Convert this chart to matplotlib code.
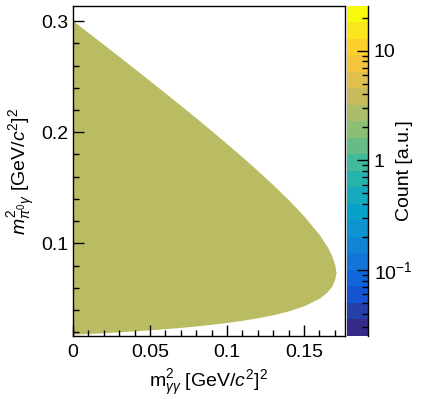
import numpy as np
import matplotlib
matplotlib.use("Agg")
import matplotlib.pyplot as plt
from matplotlib.colors import LinearSegmentedColormap, LogNorm
from matplotlib.cm import ScalarMappable

plt.rcParams['font.family'] = ['Liberation Sans', 'DejaVu Sans']
plt.rcParams['mathtext.fontset'] = 'custom'
plt.rcParams['mathtext.rm'] = 'Liberation Sans'
plt.rcParams['mathtext.it'] = 'Liberation Sans:italic'
plt.rcParams['mathtext.bf'] = 'Liberation Sans:bold'

# boundary of the filled region
m2_gg = [0.0, 0.01, 0.02, 0.03, 0.04, 0.05, 0.06, 0.07, 0.08, 0.09, 0.10,
         0.11, 0.12, 0.13, 0.14, 0.15, 0.16, 0.165, 0.168, 0.170, 0.1705, 0.1709]
m2_pig_low = [0.0182, 0.0189, 0.0196, 0.0204, 0.0213, 0.0222, 0.0233, 0.0244,
              0.0257, 0.0272, 0.0289, 0.0308, 0.0331, 0.0358, 0.0393, 0.0439,
              0.0508, 0.0563, 0.0615, 0.0679, 0.0721, 0.0740]
m2_pig_high = [0.3003, 0.2896, 0.2789, 0.2681, 0.2572, 0.2463, 0.2352, 0.2241,
               0.2128, 0.2013, 0.1896, 0.1777, 0.1654, 0.1526, 0.1392, 0.1245,
               0.1077, 0.0972, 0.0890, 0.0806, 0.0758, 0.0740]
# bins inside the region flicker between these two contents
fill_counts = [3.0, 4.0]

z_min, z_max = 0.025, 25.5
x_ticks = [0, 0.05, 0.1, 0.15]
x_tick_labels = ['0', '0.05', '0.1', '0.15']
y_ticks = [0.1, 0.2, 0.3]
y_tick_labels = ['0.1', '0.2', '0.3']
z_ticks = [0.1, 1, 10]
z_tick_labels = ['10$^{-1}$', '1', '10']

# ROOT kBird palette
stops = [0.0, 0.125, 0.25, 0.375, 0.5, 0.625, 0.75, 0.875, 1.0]
red = [0.2082, 0.0592, 0.0780, 0.0232, 0.1802, 0.5301, 0.8186, 0.9956, 0.9764]
green = [0.1664, 0.3599, 0.5041, 0.6419, 0.7178, 0.7492, 0.7328, 0.7862, 0.9832]
blue = [0.5293, 0.8684, 0.8385, 0.7914, 0.6425, 0.4662, 0.3499, 0.1968, 0.0539]
kbird = LinearSegmentedColormap.from_list(
    'kbird', list(zip(stops, zip(red, green, blue)))).resampled(20)
norm = LogNorm(vmin=z_min, vmax=z_max)

# average colour of the mixed bins
fill_col = np.mean([kbird(norm(c)) for c in fill_counts], axis=0)

fs = 14
fig = plt.figure(figsize=(4.42, 3.99), dpi=100)
ax = fig.add_axes([0.165, 0.158, 0.6155, 0.827])
cax = fig.add_axes([0.785, 0.158, 0.0475, 0.827])

ax.fill_between(m2_gg, m2_pig_low, m2_pig_high, color=fill_col, linewidth=0)
ax.set_xlim(0, 0.1766)
ax.set_ylim(0.0167, 0.3136)

ax.set_xticks(x_ticks)
ax.set_xticklabels(x_tick_labels)
ax.set_yticks(y_ticks)
ax.set_yticklabels(y_tick_labels)
ax.set_xticks(np.arange(0, 0.1766, 0.01), minor=True)
ax.set_yticks(np.arange(0.02, 0.3136, 0.02), minor=True)
ax.tick_params(which='both', direction='in', top=False, right=False,
               labelsize=fs, width=1)
ax.tick_params(which='major', length=8)
ax.tick_params(which='minor', length=4)
ax.tick_params(axis='x', pad=6)
ax.tick_params(axis='y', pad=3)
for s in ax.spines.values():
    s.set_linewidth(1)

ax.set_xlabel('m$^{2}_{\\gamma\\gamma}$ [GeV/$c^{2}$]$^{2}$', fontsize=fs, labelpad=5)
ax.set_ylabel('$m^{2}_{\\pi^{0}\\gamma}$ [GeV/$c^{2}$]$^{2}$', fontsize=fs, labelpad=3)

cb = fig.colorbar(ScalarMappable(norm=norm, cmap=kbird), cax=cax)
cb.outline.set_visible(False)
cax.spines['right'].set_visible(True)
cax.spines['right'].set_linewidth(1)
cb.set_ticks(z_ticks)
cb.set_ticklabels(z_tick_labels)
cax.tick_params(which='both', direction='in', labelsize=fs, width=1)
cax.tick_params(which='major', length=8, pad=4)
cax.tick_params(which='minor', length=4)
cb.set_label('Count [a.u.]', fontsize=fs, labelpad=-12)

fig.savefig('out.png', dpi=100)
